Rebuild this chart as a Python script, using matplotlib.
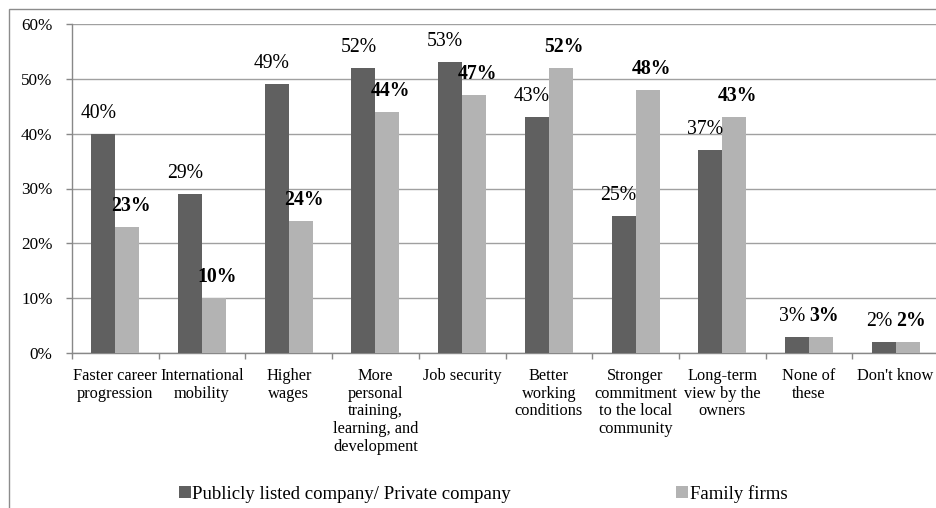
import matplotlib
matplotlib.use("Agg")
import numpy as np
from matplotlib import pyplot as plt
from matplotlib.patches import Rectangle

plt.rcParams['font.family'] = ['Liberation Serif', 'DejaVu Serif']

# Data
categories = ["Faster career\nprogression", "International\nmobility", "Higher\nwages",
              "More\npersonal\ntraining,\nlearning, and\ndevelopment", "Job security",
              "Better\nworking\nconditions", "Stronger\ncommitment\nto the local\ncommunity",
              "Long-term\nview by the\nowners", "None of\nthese", "Don't know"]
listed = [40, 29, 49, 52, 53, 43, 25, 37, 3, 2]
family = [23, 10, 24, 44, 47, 52, 48, 43, 3, 2]
series_names = ["Publicly listed company/ Private company", "Family firms"]

dark = '#606060'
light = '#b3b3b3'
grid_col = '#a0a0a0'
axis_col = '#888888'

fig = plt.figure(figsize=(9.37, 5.08), dpi=100)
ax = fig.add_axes([72 / 937, 155 / 508, 867 / 937, 329 / 508])

x = np.arange(len(categories))
w = 0.277
b1 = ax.bar(x - w / 2, listed, w, color=dark, label=series_names[0], zorder=3)
b2 = ax.bar(x + w / 2, family, w, color=light, label=series_names[1], zorder=3)

# value labels
for xi, v in zip(x, listed):
    ax.annotate(f"{v}%", (xi - w / 2, v), xytext=(-3.5, 11.5), textcoords='offset points',
                ha='center', va='baseline', fontsize=14.2, color='black')
for xi, v in zip(x, family):
    ax.annotate(f"{v}%", (xi + w / 2, v), xytext=(2.5, 11.5), textcoords='offset points',
                ha='center', va='baseline', fontsize=14.2, fontweight='bold', color='black')

ax.set_xlim(-0.5, len(categories) - 0.5)
ax.set_ylim(0, 60)
ax.set_yticks(np.arange(0, 61, 10))
ax.set_yticklabels([f"{t}%" for t in range(0, 61, 10)], fontsize=12.3)
ax.set_xticks(x)
ax.set_xticklabels(categories, fontsize=11.8, linespacing=1.16)
ax.set_xticks(np.arange(-0.5, len(categories), 1), minor=True)
ax.tick_params(axis='x', which='major', length=0, pad=10.5)
ax.tick_params(axis='x', which='minor', length=4, color=axis_col, width=1)
ax.tick_params(axis='y', length=4, color=axis_col, width=1, pad=10)

ax.grid(axis='y', color=grid_col, linewidth=1, zorder=0)
for s in ['top', 'right']:
    ax.spines[s].set_visible(False)
ax.spines['left'].set_color(axis_col)
ax.spines['bottom'].set_color(axis_col)
ax.spines['left'].set_linewidth(1)
ax.spines['bottom'].set_linewidth(1)

fig.legend(handles=[b1, b2], loc='center left', bbox_to_anchor=(179 / 937, 1 - 494 / 508),
           ncol=2, frameon=False, fontsize=13.5, handlelength=0.62, handleheight=0.62,
           handletextpad=0.1, columnspacing=8.8, borderpad=0, borderaxespad=0)

# outer chart frame (cut by the image edges)
fig.add_artist(Rectangle((9.5 / 937, -0.2), 1.2, 1.2 - 8.5 / 508, transform=fig.transFigure,
                         fill=False, edgecolor='#8c8c8c', linewidth=1))

fig.savefig("out.png", dpi=100)
